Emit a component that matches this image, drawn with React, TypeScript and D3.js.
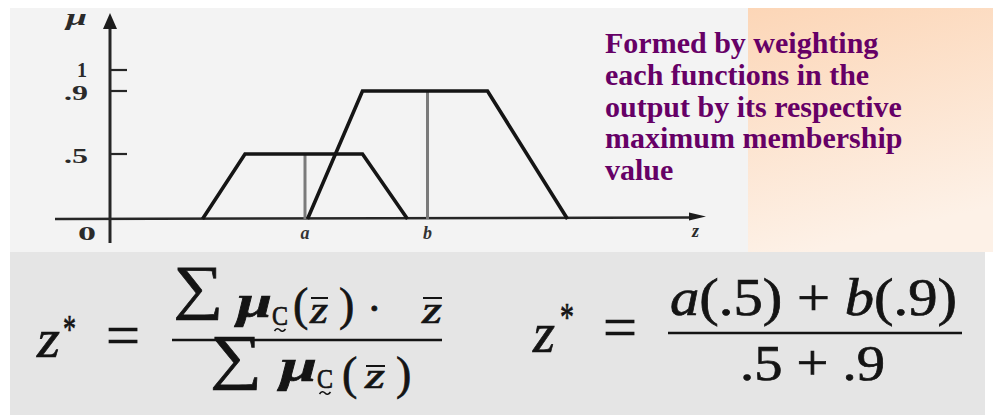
import React from "react";
import * as d3 from "d3";

const W = 995;
const H = 415;

// Output membership functions: corner abscissae and peak membership
const lowSetZ = [1.85, 2.7, 5.05, 5.95];
const lowSetPeak = 0.5;
const highSetZ = [3.95, 5.05, 7.55, 9.15];
const highSetPeak = 0.9;

// Centroid of each set, drawn as a vertical line up to its peak
const centroidLabels = ["a", "b"];
const centroidZ = [3.9, 6.35];
const centroidMu = [0.5, 0.9];

const muTicks = [1, 0.9, 0.5];
const muTickLabels = ["1", ".9", ".5"];

const descriptionLines = [
  "Formed by weighting",
  "each functions in the",
  "output by its respective",
  "maximum membership",
  "value",
];

const SERIF = "'Liberation Serif', 'Times New Roman', serif";
const INK = "#141414";

type Piece = {
  t: string;
  x: number;
  y: number;
  s: number;
  it?: boolean;
  b?: boolean;
  len?: number;
};

function Txt({ p }: { p: Piece }) {
  return (
    <text
      x={p.x}
      y={p.y}
      fontSize={p.s}
      fontFamily={SERIF}
      fontStyle={p.it ? "italic" : "normal"}
      fontWeight={p.b ? "bold" : "normal"}
      fill={INK}
      stroke={INK}
      strokeWidth={0.7}
      textLength={p.len}
      lengthAdjust={p.len ? "spacingAndGlyphs" : undefined}
    >
      {p.t}
    </text>
  );
}

// small wave placed under the fuzzy-set letter
const tilde = (cx: number, cy: number, w: number) =>
  `M${cx - w / 2},${cy + 1} q${w / 4},-4 ${w / 2},-1 t${w / 2},-1`;

// Left formula: weighted average of centroids
const leftPieces: Piece[] = [
  { t: "z", x: 37, y: 357, s: 54, it: true, len: 23 },
  { t: "*", x: 63, y: 342, s: 40, len: 13 },
  { t: "=", x: 106, y: 355, s: 60, len: 34 },
  { t: "\u2211", x: 173, y: 307, s: 60, len: 50 },
  { t: "\u03bc", x: 237, y: 317, s: 46, it: true, b: true, len: 35 },
  { t: "C", x: 272, y: 325, s: 28, len: 16 },
  { t: "(", x: 293, y: 320, s: 46 },
  { t: "z", x: 310, y: 323, s: 38, it: true, len: 18 },
  { t: ")", x: 339, y: 320, s: 46 },
  { t: "\u00b7", x: 367, y: 323, s: 44 },
  { t: "z", x: 422, y: 323, s: 38, it: true, len: 20 },
  { t: "\u2211", x: 210, y: 377, s: 61, len: 52 },
  { t: "\u03bc", x: 280, y: 381, s: 46, it: true, b: true, len: 37 },
  { t: "C", x: 317, y: 388, s: 28, len: 16 },
  { t: "(", x: 342, y: 389, s: 46 },
  { t: "z", x: 365, y: 388, s: 36, it: true, len: 20 },
  { t: ")", x: 396, y: 389, s: 46 },
];
const leftBars = [
  [311, 328, 298],
  [423, 442, 298],
  [366, 385, 366],
];
const leftTildes = [
  [280, 330],
  [325, 393],
];

// Right formula: the same average with the two centroids
const rightPieces: Piece[] = [
  { t: "z", x: 533, y: 352, s: 58, it: true, len: 22 },
  { t: "*", x: 560, y: 330, s: 40, len: 14 },
  { t: "=", x: 603, y: 347, s: 60, len: 34 },
  { t: ".5 + .9", x: 740, y: 380, s: 50, len: 145 },
];

export default function App() {
  const x = d3.scaleLinear().domain([0, 12]).range([110, 710]);
  const y = d3.scaleLinear().domain([0, 0.5, 0.9, 1]).range([219, 154, 91, 70]);

  const line = d3
    .line<[number, number]>()
    .x((d) => x(d[0]))
    .y((d) => y(d[1]));

  const trap = (z: number[], peak: number): [number, number][] => [
    [z[0], 0],
    [z[1], peak],
    [z[2], peak],
    [z[3], 0],
  ];

  const y0 = y(0);
  const axisX = x(0);

  return (
    <svg
      width={W}
      height={H}
      viewBox={`0 0 ${W} ${H}`}
      style={{ position: "absolute", left: 0, top: 0, display: "block" }}
    >
      <defs>
        <linearGradient id="peach" x1="0" y1="0" x2="0.25" y2="1">
          <stop offset="0" stopColor="#fcd6b7" />
          <stop offset="1" stopColor="#fdf1e7" />
        </linearGradient>
      </defs>
      <rect x={0} y={0} width={W} height={H} fill="#ffffff" />
      <rect x={10} y={8} width={740} height={244} fill="#f3f3f3" />
      <rect x={748} y={8} width={245} height={244} fill="url(#peach)" />
      <rect x={10} y={252} width={975} height={163} fill="#e5e5e5" />

      {/* axes */}
      <g stroke="#262626" fill="none">
        <line x1={axisX} x2={axisX} y1={243} y2={26} strokeWidth={3} />
        <line x1={55} x2={694} y1={y0} y2={y0 - 1.5} strokeWidth={2.5} />
        {muTicks.map((m) => (
          <line key={m} x1={axisX} x2={axisX + 17} y1={y(m)} y2={y(m)} strokeWidth={2.2} />
        ))}
      </g>
      <polygon points={`${axisX},13 ${axisX - 7},29 ${axisX + 7},29`} fill="#1c1c1c" />
      <polygon points={`706,${y0 - 2.5} 689,${y0 - 6.5} 689,${y0 + 1.5}`} fill="#1c1c1c" />

      {/* axis labels */}
      <g fontFamily={SERIF} fill="#2a2a2a" fontWeight="bold">
        <text x={66} y={25} fontSize={23} fontStyle="italic" textLength={21} lengthAdjust="spacingAndGlyphs">
          {"\u03bc"}
        </text>
        {muTicks.map((m, i) => {
          const label = muTickLabels[i];
          const wide = label.length > 1;
          return (
            <text
              key={m}
              x={wide ? 64 : 77}
              y={y(m) + (wide ? 9 : 7)}
              fontSize={20}
              textLength={wide ? 24 : undefined}
              lengthAdjust={wide ? "spacingAndGlyphs" : undefined}
            >
              {label}
            </text>
          );
        })}
        <text x={78} y={240} fontSize={19} textLength={18} lengthAdjust="spacingAndGlyphs">
          0
        </text>
        <text x={692} y={237} fontSize={18} fontStyle="italic">
          z
        </text>
      </g>

      {/* centroid lines */}
      {centroidZ.map((cz, i) => (
        <line
          key={i}
          x1={x(cz)}
          x2={x(cz)}
          y1={y(centroidMu[i])}
          y2={y0}
          stroke="#7a7a7a"
          strokeWidth={3}
        />
      ))}
      {centroidZ.map((cz, i) => (
        <text
          key={i}
          x={x(cz)}
          y={239}
          fontSize={18}
          fontFamily={SERIF}
          fontStyle="italic"
          fontWeight="bold"
          textAnchor="middle"
          fill="#333"
        >
          {centroidLabels[i]}
        </text>
      ))}

      {/* membership functions */}
      <path d={line(trap(lowSetZ, lowSetPeak)) ?? ""} fill="none" stroke="#151515" strokeWidth={3.6} />
      <path d={line(trap(highSetZ, highSetPeak)) ?? ""} fill="none" stroke="#151515" strokeWidth={3.6} />

      {/* description */}
      <g fontFamily={SERIF} fontWeight="bold" fontSize={30} fill="#660066">
        {descriptionLines.map((t, i) => (
          <text key={i} x={605} y={53 + i * 31.75}>
            {t}
          </text>
        ))}
      </g>

      {/* formulas */}
      {leftPieces.map((p, i) => (
        <Txt key={`l${i}`} p={p} />
      ))}
      {leftBars.map((b, i) => (
        <line key={`lb${i}`} x1={b[0]} x2={b[1]} y1={b[2]} y2={b[2]} stroke={INK} strokeWidth={2} />
      ))}
      {leftTildes.map((t, i) => (
        <path key={`lt${i}`} d={tilde(t[0], t[1], 11)} fill="none" stroke={INK} strokeWidth={1.6} />
      ))}
      <line x1={172} x2={442} y1={340} y2={340} stroke={INK} strokeWidth={2.6} />

      {rightPieces.map((p, i) => (
        <Txt key={`r${i}`} p={p} />
      ))}
      <text
        x={670}
        y={315}
        fontSize={52}
        fontFamily={SERIF}
        fill={INK}
        stroke={INK}
        strokeWidth={0.7}
        textLength={287}
        lengthAdjust="spacingAndGlyphs"
      >
        <tspan fontStyle="italic">a</tspan>
        <tspan>(.5) + </tspan>
        <tspan fontStyle="italic">b</tspan>
        <tspan>(.9)</tspan>
      </text>
      <line x1={668} x2={962} y1={333} y2={333} stroke={INK} strokeWidth={2.6} />
    </svg>
  );
}
